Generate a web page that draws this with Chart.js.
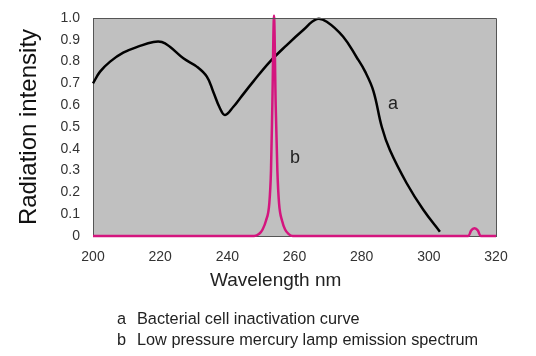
<!DOCTYPE html>
<html><head><meta charset="utf-8">
<script src="https://cdn.jsdelivr.net/npm/chart.js@4"></script>
<style>
html,body{margin:0;padding:0;background:#fff;}
#wrap{position:relative;width:536px;height:356px;font-family:"Liberation Sans",Arial,sans-serif;color:#222;}
canvas{position:absolute;left:0;top:0;}
.t{position:absolute;white-space:nowrap;line-height:1;}
</style></head>
<body><div id="wrap"><canvas id="c" width="536" height="356"></canvas>
<div class="t" style="left:210px;top:270px;font-size:19px;">Wavelength nm</div>
<div class="t" style="left:117px;top:310px;font-size:16.3px;">a</div>
<div class="t" style="left:137px;top:310px;font-size:16.3px;">Bacterial cell inactivation curve</div>
<div class="t" style="left:117px;top:331px;font-size:16.3px;">b</div>
<div class="t" style="left:137px;top:331px;font-size:16.3px;">Low pressure mercury lamp emission spectrum</div>
<div class="t" style="left:388px;top:94px;font-size:18px;">a</div>
<div class="t" style="left:290px;top:148px;font-size:18px;">b</div>
</div>
<script>
const xTicks = [200,220,240,260,280,300,320];
const yTicks = [0,0.1,0.2,0.3,0.4,0.5,0.6,0.7,0.8,0.9,1.0];
const curveAx = [200,202.1,205.1,209,214,218,220.5,222.9,226.9,230.9,233.9,235.8,237.8,239.3,241.8,243.8,247.7,252.7,257.7,262.6,266.6,269.6,274.5,278.5,281,283.5,286,288.4,293.4,298.4,303.3];
const curveAy = [0.70,0.754,0.80,0.841,0.872,0.89,0.89,0.868,0.815,0.777,0.731,0.662,0.586,0.555,0.593,0.632,0.708,0.80,0.876,0.945,0.995,0.983,0.914,0.82,0.755,0.665,0.50,0.394,0.242,0.119,0.02];
const lampX = [200,248,249.5,250.5,251.5,252.5,253,253.4,253.9,254.4,254.9,255.4,256.3,257.2,258.2,259.5,311.8,312.6,313.6,314.6,315.4,320];
const lampY = [0,0,0.01,0.03,0.07,0.15,0.3,0.6,1.01,0.6,0.3,0.15,0.07,0.03,0.01,0,0,0.025,0.035,0.025,0,0];

const bgPlugin = {
  id:'bg',
  beforeDraw(chart){
    const {ctx, chartArea:a} = chart;
    ctx.save(); ctx.fillStyle='#c0c0c0';
    ctx.fillRect(a.left,a.top,a.right-a.left,a.bottom-a.top);
    ctx.restore();
  },
  afterDraw(chart){
    const {ctx, chartArea:a} = chart;
    ctx.save(); ctx.strokeStyle='#555'; ctx.lineWidth=1;
    ctx.beginPath();
    ctx.moveTo(a.left,a.top+0.5); ctx.lineTo(a.right+0.5,a.top+0.5); ctx.lineTo(a.right+0.5,a.bottom);
    ctx.stroke(); ctx.restore();
  }
};

new Chart(document.getElementById('c'), {
  type:'line',
  data:{datasets:[
    {data:lampX.map((x,i)=>({x, y:lampY[i]})), borderColor:'#d4157e', borderWidth:2.5, pointRadius:0, cubicInterpolationMode:'monotone', clip:false, order:1},
    {data:curveAx.map((x,i)=>({x, y:curveAy[i]})), borderColor:'#000', borderWidth:2.5, pointRadius:0, tension:0.4, clip:false, order:2}
  ]},
  plugins:[bgPlugin],
  options:{
    responsive:false, animation:false,
    layout:{padding:{top:18,right:40,left:0,bottom:0}},
    plugins:{legend:{display:false},tooltip:{enabled:false}},
    scales:{
      x:{type:'linear',min:200,max:320,
        afterBuildTicks(s){s.ticks=xTicks.map(v=>({value:v}));},
        afterFit(s){s.height=120;},
        grid:{display:false,drawOnChartArea:false,drawTicks:true,tickLength:6,color:'#333'},
        border:{display:true,color:'#555',width:1},
        ticks:{color:'#333',font:{family:'"Liberation Sans", Arial',size:14},padding:7,maxRotation:0,callback:v=>String(v)}
      },
      y:{type:'linear',min:0,max:1,
        afterBuildTicks(s){s.ticks=yTicks.map(v=>({value:v}));},
        afterFit(s){s.width=93;},
        grid:{display:false,drawOnChartArea:false,drawTicks:true,tickLength:7,color:'#333'},
        border:{display:true,color:'#555',width:1},
        title:{display:true,text:'Radiation intensity',color:'#111',font:{family:'"Liberation Sans", Arial',size:24},padding:{top:15,bottom:0}},
        ticks:{color:'#333',font:{family:'"Liberation Sans", Arial',size:14},padding:6,callback:v=>v===0?'0':v.toFixed(1)}
      }
    }
  }
});
</script></body></html>
